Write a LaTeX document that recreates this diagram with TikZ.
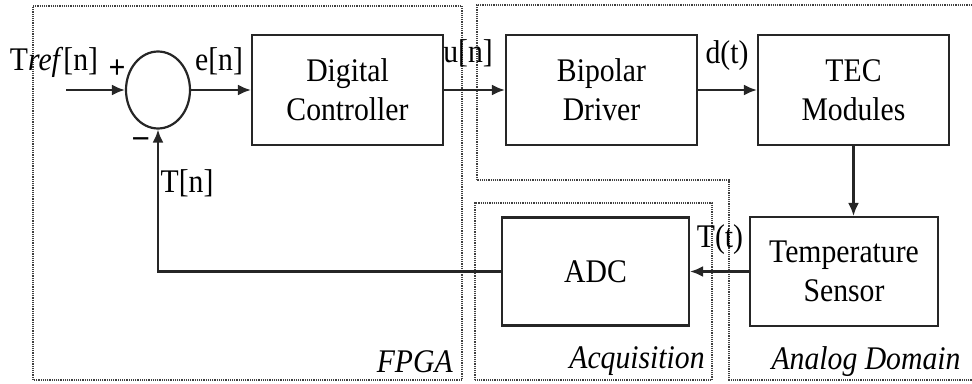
\documentclass[tikz,border=0pt]{standalone}
\usepackage{fontspec}
\setmainfont{Liberation Serif}[FakeStretch=0.9]
\usetikzlibrary{arrows.meta,shapes.geometric}
\begin{document}
\begin{tikzpicture}[x=1pt,y=1pt,
    block/.style={draw=black!85,line width=2.2pt,minimum width=191pt,minimum height=110pt,align=center,inner sep=0pt},
    region/.style={densely dotted,line width=1.2pt,black!75},
    sig/.style={line width=2.2pt,black!85,-{Latex[length=13pt,width=11pt]}},
    lbl/.style={anchor=base,inner sep=0pt},
    font=\fontsize{33}{39}\selectfont]
  \useasboundingbox (0,0) rectangle (972,383);
  % domains
  \draw[region] (33,3) rectangle (462,377);
  \draw[region] (477,203) -- (477,378) -- (985,378) -- (985,3) -- (729,3) -- (729,203) -- cycle;
  \draw[region] (475,3) rectangle (712,180);
  % loop
  \node[ellipse,draw=black!85,line width=2.2pt,minimum width=64pt,minimum height=77pt,inner sep=0pt] (sum) at (158,293) {};
  \node[block] (ctrl) at (347.5,293) {Digital\\Controller};
  \node[block] (drv) at (601.5,293) {Bipolar\\Driver};
  \node[block] (tec) at (853.5,293) {TEC\\Modules};
  \node[block,minimum width=188pt,minimum height=109pt] (sens) at (844,111.5) {Temperature\\Sensor};
  \node[block,minimum width=187pt,minimum height=108pt] (adc) at (595.5,111.5) {ADC};
  \coordinate (in) at (66,293);
  \draw[sig] (in) -- (sum.west);
  \draw[sig] (sum.east) -- (ctrl.west);
  \draw[sig] (ctrl.east) -- (drv.west);
  \draw[sig] (drv.east) -- (tec.west);
  \draw[sig] (tec.south) -- (tec.south |- sens.north);
  \draw[sig] (sens.west) -- (adc.east);
  \draw[sig] (adc.west) -| (sum.south);
  % signal names
  \foreach \x/\y/\t/\n in
    { 54/312/{T\textit{ref}[n]}/tref,
     219/312/{e[n]}/en,
     468/320/{u[n]}/un,
     727/319/{d(t)}/dt,
     720/135/{T(t)}/tt,
     187/190/{T[n]}/tn,
     117/304/{\textbf{+}}/plus,
     141/236/{\textbf{--}}/minus,
     637/15/{\textit{Acquisition}}/acq,
     866/14/{\textit{Analog Domain}}/ana
    }
    \node[lbl] (\n) at (\x,\y) {\t};
  \node[lbl,anchor=base east] (fpga) at (453,10) {\textit{FPGA}};
\end{tikzpicture}
\end{document}
